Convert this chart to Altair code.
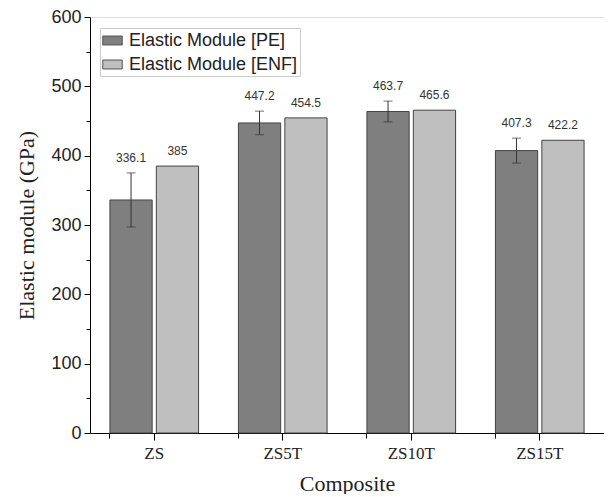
import altair as alt
import pandas as pd

composites = ["ZS", "ZS5T", "ZS10T", "ZS15T"]
series_names = ["Elastic Module [PE]", "Elastic Module [ENF]"]
pe_values = [336.1, 447.2, 463.7, 407.3]
enf_values = [385.0, 454.5, 465.6, 422.2]
pe_errors = [39.0, 17.0, 15.0, 18.0]
enf_errors = [0.0, 0.0, 0.0, 0.0]
colors = ["#7f7f7f", "#bfbfbf"]

rows = []
for i, c in enumerate(composites):
    rows.append({"composite": c, "series": series_names[0], "value": pe_values[i],
                 "err": pe_errors[i], "has_err": True})
    rows.append({"composite": c, "series": series_names[1], "value": enf_values[i],
                 "err": enf_errors[i], "has_err": False})
df = pd.DataFrame(rows)
df["lo"] = df["value"] - df["err"]
df["hi"] = df["value"] + df["err"]
df["label"] = df["value"].map(lambda v: f"{v:g}")

xscale = alt.Scale(domain=composites, paddingInner=0.31, paddingOuter=0.155)
yscale = alt.Scale(domain=[0, 600], nice=False)
offscale = alt.Scale(domain=series_names, paddingInner=0.09, paddingOuter=0)

xaxis = alt.Axis(title="Composite", labelFont="Liberation Serif", labelFontSize=17,
                 titleFont="Liberation Serif", titleFontSize=22, titleFontWeight="normal",
                 labelColor="#222", titleColor="#222", tickSize=7, tickColor="black",
                 domainColor="black", labelPadding=5, titlePadding=12, labelAngle=0,
                 orient="bottom")
yaxis = alt.Axis(title="Elastic module (GPa)", values=[0, 100, 200, 300, 400, 500, 600],
                 labelFont="Liberation Sans", labelFontSize=18, titleFont="Liberation Serif",
                 titleFontSize=22, titleFontWeight="normal", labelColor="#222",
                 titleColor="#222", tickSize=6, tickColor="black", domainColor="black",
                 labelPadding=3, titlePadding=12, grid=False, orient="left")

base = alt.Chart(df)

bars = base.mark_bar(stroke="#444", strokeWidth=1).encode(
    x=alt.X("composite:N", scale=xscale, axis=xaxis, sort=composites),
    xOffset=alt.XOffset("series:N", scale=offscale, sort=series_names),
    y=alt.Y("value:Q", scale=yscale, axis=yaxis),
    color=alt.Color("series:N", scale=alt.Scale(domain=series_names, range=colors),
                    sort=series_names,
                    legend=alt.Legend(title=None, orient="none", legendX=10, legendY=11,
                                      symbolType="M-1,-0.46H1V0.46H-1Z", symbolSize=380,
                                      symbolStrokeColor="#555", symbolStrokeWidth=1,
                                      labelFont="Liberation Sans", labelFontSize=18,
                                      labelColor="#222", strokeColor="#cccccc",
                                      labelLimit=400,
                                      padding=2, rowPadding=4, symbolOffset=0,
                                      labelOffset=6, fillColor="white")),
)

err_df = df[df["has_err"]]
errbase = alt.Chart(err_df)

rules = errbase.mark_rule(color="#333", strokeWidth=1).encode(
    x=alt.X("composite:N", scale=xscale, sort=composites, axis=None),
    xOffset=alt.XOffset("series:N", scale=offscale, sort=series_names),
    y=alt.Y("lo:Q", scale=yscale, axis=None),
    y2="hi:Q",
)
caps_hi = errbase.mark_tick(color="#333", size=9, thickness=1).encode(
    x=alt.X("composite:N", scale=xscale, sort=composites, axis=None),
    xOffset=alt.XOffset("series:N", scale=offscale, sort=series_names),
    y=alt.Y("hi:Q", scale=yscale, axis=None),
)
caps_lo = errbase.mark_tick(color="#333", size=9, thickness=1).encode(
    x=alt.X("composite:N", scale=xscale, sort=composites, axis=None),
    xOffset=alt.XOffset("series:N", scale=offscale, sort=series_names),
    y=alt.Y("lo:Q", scale=yscale, axis=None),
)

text = base.mark_text(baseline="bottom", dy=-8, font="Liberation Sans", fontSize=12,
                      color="#333").encode(
    x=alt.X("composite:N", scale=xscale, sort=composites, axis=None),
    xOffset=alt.XOffset("series:N", scale=offscale, sort=series_names),
    y=alt.Y("hi:Q", scale=yscale, axis=None),
    text="label:N",
)

minor = base.mark_point(opacity=0).encode(
    x=alt.X("composite:N", scale=xscale, sort=composites,
            axis=alt.Axis(title=None, labels=False, bandPosition=0, tickSize=5,
                          tickColor="black", domain=False, orient="bottom")),
    y=alt.Y("value:Q", scale=yscale,
            axis=alt.Axis(title=None, labels=False, values=[50, 150, 250, 350, 450, 550],
                          tickSize=4, tickColor="black", domain=False, grid=False,
                          orient="left")),
)

chart = alt.layer(bars, rules, caps_hi, caps_lo, text, minor).resolve_axis(
    x="independent", y="independent"
).properties(
    width=514, height=416, padding={"left": 7, "top": 0, "right": 0, "bottom": 0}
).configure_view(stroke="black", strokeWidth=1).configure(background="white")

chart.save("out.html", embed_options={"renderer": "svg", "actions": False})
